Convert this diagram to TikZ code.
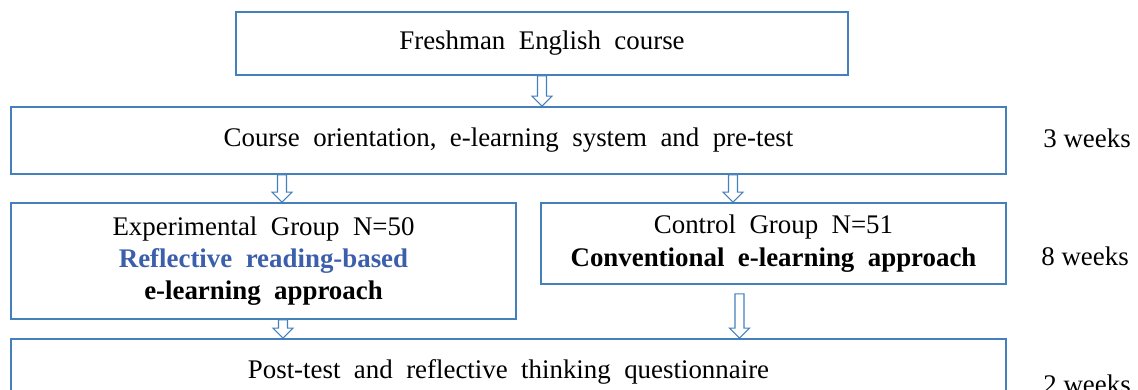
\documentclass[tikz,border=0pt]{standalone}
\usepackage{fontspec}
\setmainfont{Liberation Serif}[WordSpace=2]
\newfontfamily\weekfont{Liberation Serif}
\usepackage{tikz}
\usetikzlibrary{calc}
\definecolor{boxblue}{RGB}{68,128,188}
\definecolor{textblue}{RGB}{60,95,172}

\begin{document}
\begin{tikzpicture}
	\useasboundingbox (0,0) rectangle (22.76,-7.8);
	\begin{scope}[every node/.style={draw=boxblue,line width=1pt,align=center,inner sep=0pt,font=\fontsize{15.3}{18.4}\selectfont}]
		\node[minimum width=12.24cm,minimum height=1.26cm] (course) at (10.84,-0.87) {Freshman English course};
		\node[minimum width=19.9cm,minimum height=1.34cm] (orient) at (10.17,-2.81) {Course orientation, e-learning system and pre-test};
		\node[minimum width=10.1cm,minimum height=2.32cm] (exp) at (5.27,-5.22) {Experimental Group N=50\\\textcolor{textblue}{\textbf{Reflective reading-based}}\\\textbf{e-learning approach}};
		\node[minimum width=9.3cm,minimum height=1.62cm] (ctrl) at (15.47,-4.87) {Control Group N=51\\\textbf{Conventional e-learning approach}};
		\node[minimum width=19.9cm,minimum height=1.3cm] (post) at (10.17,-7.43) {Post-test and reflective thinking questionnaire};
	\end{scope}
	\begin{scope}[every node/.style={anchor=base west,inner sep=0pt,font=\weekfont\fontsize{15.3}{18.4}\selectfont}]
		\node (w3) at (20.86,-2.94) {3 weeks};
		\node (w8) at (20.82,-5.3) {8 weeks};
		\node (w2) at (20.86,-7.86) {2 weeks};
	\end{scope}
	\begin{scope}[every edge/.style={draw=boxblue,fill=white,line width=0.6pt,
		to path={let \p1=(\tikztostart),\p2=(\tikztotarget) in
			(\x1-0.09cm,\y1) -- (\x1-0.09cm,\y2+0.2cm) -- (\x1-0.2cm,\y2+0.2cm) -- (\x1,\y2)
			-- (\x1+0.2cm,\y2+0.2cm) -- (\x1+0.09cm,\y2+0.2cm) -- (\x1+0.09cm,\y1) -- cycle}}]
		\draw (course.south) edge (orient.north);
		\draw ($(exp.north |- orient.south)+(0.37,0)$) edge (exp.north);
		\draw ($(ctrl.north |- orient.south)+(-0.81,0)$) edge (ctrl.north);
		\draw ($(exp.south)+(0.39,0)$) edge (post.north);
		\draw ($(ctrl.south)+(-0.68,-0.18)$) edge (post.north);
	\end{scope}
\end{tikzpicture}
\end{document}
